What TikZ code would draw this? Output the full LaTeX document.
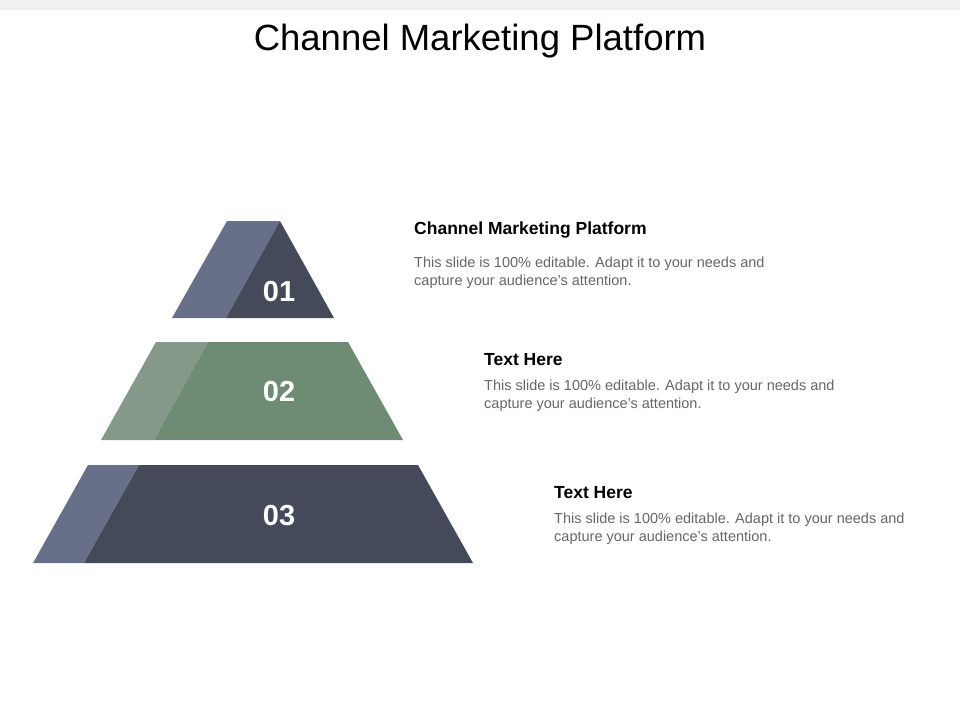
\documentclass[tikz,border=0pt]{standalone}
\usepackage{fontspec}
\setmainfont{Liberation Sans}
\definecolor{dk}{HTML}{444A5A}
\definecolor{lt}{HTML}{687089}
\definecolor{gr}{HTML}{6E8C74}
\definecolor{lg}{HTML}{84998A}
\definecolor{bd}{HTML}{666666}
\begin{document}
\begin{tikzpicture}[x=1pt,y=-1pt,
 num/.style={text=white,font=\fontsize{29}{34}\selectfont\bfseries},
 head/.style={anchor=west,font=\fontsize{17.5}{21}\selectfont\bfseries,inner sep=0},
 body/.style={anchor=north west,align=left,text=bd,font=\fontsize{14.5}{17.5}\selectfont,inner sep=0}]
\useasboundingbox (0,0) rectangle (960,720);
\fill[black!6] (0,0) rectangle (960,10);
\node[font=\fontsize{36.5}{42}\selectfont] (title) at (480,41) {Channel Marketing Platform};
% tier 1
\fill[lt] (227,221) -- (280,221) -- (226,318) -- (172,318) -- cycle;
\fill[dk] (280,221) -- (334,318) -- (226,318) -- cycle;
\node[num] (n1) at (279,292) {01};
% tier 2
\fill[lg] (156,342) -- (208,342) -- (154,440) -- (101,440) -- cycle;
\fill[gr] (208,342) -- (348,342) -- (403,440) -- (154,440) -- cycle;
\node[num] (n2) at (279,392) {02};
% tier 3
\fill[lt] (88,465) -- (139,465) -- (84,563) -- (33,563) -- cycle;
\fill[dk] (139,465) -- (418,465) -- (473,563) -- (84,563) -- cycle;
\node[num] (n3) at (279,516) {03};
\node[head] (h1) at (414,230) {Channel Marketing Platform};
\node[body] (b1) at (414,257) {This slide is 100\% editable. Adapt it to your needs and\\capture your audience's attention.};
\node[head] (h2) at (484,360) {Text Here};
\node[body] (b2) at (484,380) {This slide is 100\% editable. Adapt it to your needs and\\capture your audience's attention.};
\node[head] (h3) at (554,493) {Text Here};
\node[body] (b3) at (554,513) {This slide is 100\% editable. Adapt it to your needs and\\capture your audience's attention.};
\end{tikzpicture}
\end{document}
